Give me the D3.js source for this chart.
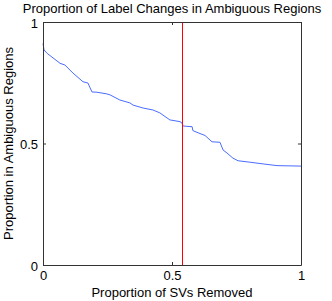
<!DOCTYPE html>
<html><head><meta charset="utf-8">
<script src="https://cdn.jsdelivr.net/npm/d3@7"></script>
<style>body{margin:0;background:#fff}svg{display:block}text{font-family:"Liberation Sans",Arial,sans-serif;fill:#000}</style>
</head><body>
<script>
const title = "Proportion of Label Changes in Ambiguous Regions";
const xLabel = "Proportion of SVs Removed";
const yLabel = "Proportion in Ambiguous Regions";
const xTicks = [0, 0.5, 1];
const yTicks = [0, 0.5, 1];
const xTickLabels = ["0", "0.5", "1"];
const yTickLabels = ["0", "0.5", "1"];
const svRemoved = [0,0.004,0.016,0.066,0.085,0.116,0.155,0.174,0.190,0.209,0.248,0.260,0.298,0.337,0.349,0.388,0.426,0.453,0.481,0.492,0.531,0.539,0.543,0.578,0.581,0.601,0.628,0.655,0.686,0.698,0.713,0.736,0.756,0.802,0.853,0.907,1.0];
const ambiguous = [0.912,0.885,0.871,0.830,0.823,0.790,0.754,0.749,0.712,0.711,0.704,0.700,0.679,0.667,0.658,0.646,0.638,0.626,0.605,0.597,0.590,0.584,0.572,0.569,0.553,0.544,0.533,0.507,0.505,0.473,0.461,0.440,0.429,0.423,0.416,0.409,0.407];
const threshold = [0.539];

const W = 332, H = 301;
const m = {left: 43, right: 31, top: 22, bottom: 36};
const svg = d3.select("body").append("svg").attr("width", W).attr("height", H);
const x = d3.scaleLinear().domain([0, 1]).range([m.left, W - m.right]);
const y = d3.scaleLinear().domain([0, 1]).range([H - m.bottom, m.top]);

const fs = 13;
// curve
svg.append("path").datum(svRemoved.map((v, i) => [v, ambiguous[i]]))
  .attr("fill", "none").attr("stroke", "#4a6cff").attr("stroke-width", 1)
  .attr("d", d3.line().x(d => x(d[0])).y(d => y(d[1])));
// threshold
svg.selectAll("line.thr").data(threshold).join("line")
  .attr("x1", d => Math.round(x(d)) + 0.5).attr("x2", d => Math.round(x(d)) + 0.5)
  .attr("y1", y(0)).attr("y2", y(1)).attr("stroke", "#ff0000").attr("stroke-width", 1);

// box and ticks
const fmtX = (d, i) => xTickLabels[i], fmtY = (d, i) => yTickLabels[i];
function styleAxis(g) {
  g.select(".domain").attr("stroke", "#333");
  g.selectAll(".tick line").attr("stroke", "#333");
  g.selectAll("text").style("font-size", fs + "px").attr("font-family", "Liberation Sans, Arial, sans-serif");
}
svg.append("g").attr("transform", `translate(0,${y(0)})`)
  .call(d3.axisBottom(x).tickValues(xTicks).tickFormat(fmtX).tickSizeInner(-3).tickSizeOuter(0).tickPadding(6))
  .call(styleAxis);
svg.append("g").attr("transform", `translate(0,${y(1)})`)
  .call(d3.axisTop(x).tickValues(xTicks).tickFormat("").tickSizeInner(-3).tickSizeOuter(0))
  .call(styleAxis);
svg.append("g").attr("transform", `translate(${x(0)},0)`)
  .call(d3.axisLeft(y).tickValues(yTicks).tickFormat(fmtY).tickSizeInner(-3).tickSizeOuter(0).tickPadding(5))
  .call(styleAxis)
  .call(g => g.selectAll("text").attr("dy", "0.42em"));
svg.append("g").attr("transform", `translate(${x(1)},0)`)
  .call(d3.axisRight(y).tickValues(yTicks).tickFormat("").tickSizeInner(-3).tickSizeOuter(0))
  .call(styleAxis);

svg.append("text").attr("x", (x(0) + x(1)) / 2).attr("y", 12.5).attr("text-anchor", "middle")
  .style("font-size", fs + "px").text(title);
svg.append("text").attr("x", (x(0) + x(1)) / 2).attr("y", 297).attr("text-anchor", "middle")
  .style("font-size", fs + "px").text(xLabel);
svg.append("text").attr("transform", `translate(13,${(y(0) + y(1)) / 2}) rotate(-90)`).attr("text-anchor", "middle")
  .style("font-size", fs + "px").text(yLabel);
</script>
</body></html>
